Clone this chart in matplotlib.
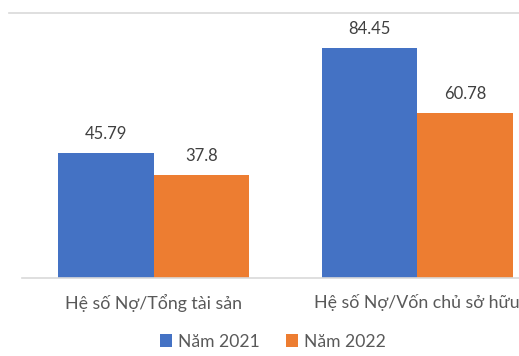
import matplotlib
matplotlib.use("Agg")
import matplotlib.pyplot as plt
from matplotlib.lines import Line2D
import numpy as np

categories = ["Hệ số Nợ/Tổng tài sản", "Hệ số Nợ/Vốn chủ sở hữu"]
series_names = ["Năm 2021", "Năm 2022"]
values_2021 = [45.79, 84.45]
values_2022 = [37.8, 60.78]
label_2021 = ["45.79", "84.45"]
label_2022 = ["37.8", "60.78"]

plt.rcParams['font.family'] = ['Lato', 'DejaVu Sans']

W, H = 519, 356
fig = plt.figure(figsize=(W / 100, H / 100), dpi=100)

left_px, base_px = 22.3, 277.7
band = 263.3
ax_h_px = 100 * 2.715
ax = fig.add_axes([left_px / W, (H - base_px) / H, 2 * band / W, ax_h_px / H])

x = np.arange(len(categories))
bw = 95.5 / band
b1 = ax.bar(x - bw / 2, values_2021, bw, color="#4472C4", label=series_names[0])
b2 = ax.bar(x + bw / 2, values_2022, bw, color="#ED7D31", label=series_names[1])
ax.bar_label(b1, labels=label_2021, padding=8, fontsize=12, color="#404040")
ax.bar_label(b2, labels=label_2022, padding=8, fontsize=12, color="#404040")

ax.set_xlim(-0.5, 1.5)
ax.set_ylim(0, 100)
ax.set_xticks(x)
ax.set_xticklabels(categories, fontsize=12.8, color="#595959")
ax.tick_params(axis='x', length=0, pad=11.5)
ax.set_yticks([])
for s in ["top", "left", "right"]:
    ax.spines[s].set_visible(False)
ax.spines["bottom"].set_color("#D9D9D9")
ax.spines["bottom"].set_linewidth(1.2)

fig.add_artist(Line2D([9 / W, 1.0], [1 - 13.3 / H, 1 - 13.3 / H],
                      transform=fig.transFigure, color="#D9D9D9", lw=1.2))

fig.legend(handles=[b1, b2], labels=series_names, loc="center",
           bbox_to_anchor=(273 / W, 14.3 / H), ncol=2, frameon=False,
           fontsize=12.6, labelcolor="#595959", handlelength=0.7,
           handleheight=0.7, handletextpad=0.35, columnspacing=1.5,
           borderaxespad=0, borderpad=0)

fig.savefig("out.png", dpi=100)
